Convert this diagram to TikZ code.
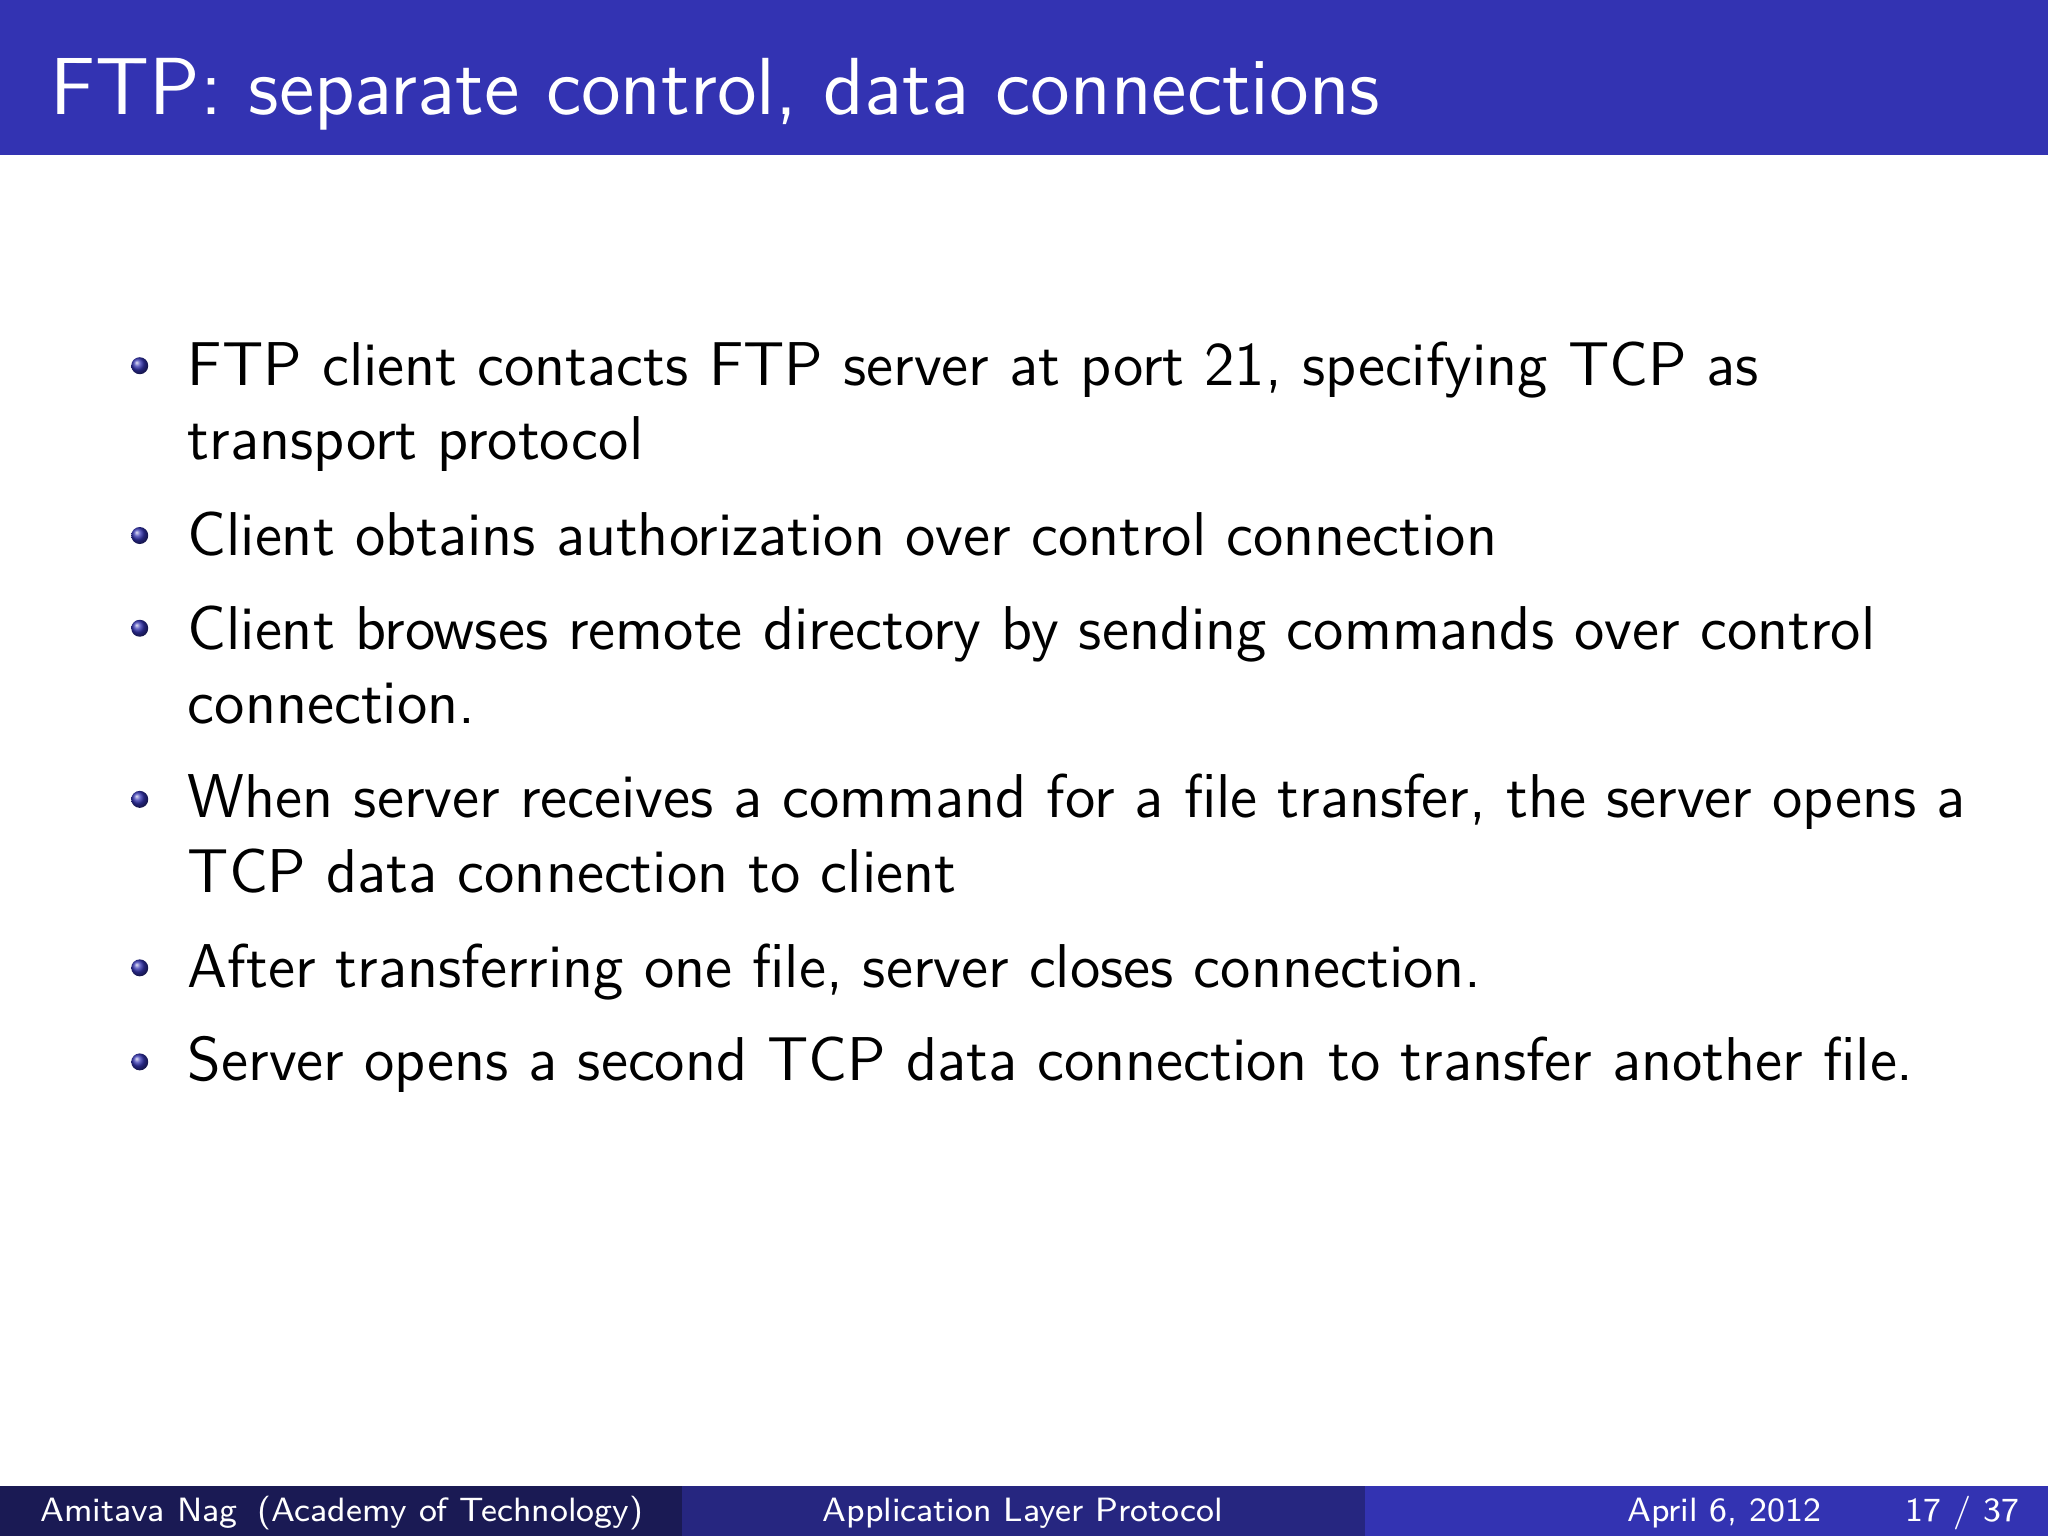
\documentclass[tikz,border=0pt]{standalone}
\usetikzlibrary{shadings}
\definecolor{bbar}{RGB}{51,51,178}
\definecolor{fdark}{RGB}{26,26,84}
\definecolor{fmid}{RGB}{38,38,128}
\tikzset{
  line/.style={anchor=base west,inner sep=0pt,font=\sffamily\fontsize{11}{13}\selectfont},
  foot/.style={anchor=base west,inner sep=0pt,text=white,font=\sffamily\fontsize{6}{7}\selectfont},
  ballb/.style={ball color=bbar,draw=none}
}
\begin{document}
\begin{tikzpicture}[x=0.0081633cm,y=-0.0081633cm]
\useasboundingbox (0,0) rectangle (1568,1176);
\fill[white] (0,0) rectangle (1568,1176);
\fill[bbar] (0,0) rectangle (1568,119);
\node[anchor=base west,inner sep=0pt,text=white,font=\sffamily\fontsize{14.4}{17}\selectfont] (title) at (38,88) {FTP: separate control, data connections};
\foreach \y in {280,410,481,612,741,813}{
  \shade[ballb] (107,\y) circle (6.5);
}
\node[line] (l1) at (143,295) {FTP client contacts FTP server at port 21, specifying TCP as};
\node[line] (l2) at (143,352) {transport protocol};
\node[line] (l3) at (143,425) {Client obtains authorization over control connection};
\node[line] (l4) at (143,497) {Client browses remote directory by sending commands over control};
\node[line] (l5) at (143,554) {connection.};
\node[line] (l6) at (143,626) {When server receives a command for a file transfer, the server opens a};
\node[line] (l7) at (143,683) {TCP data connection to client};
\node[line] (l8) at (143,756) {After transferring one file, server closes connection.};
\node[line] (l9) at (143,827) {Server opens a second TCP data connection to transfer another file.};
\fill[fdark] (0,1138) rectangle (522,1176);
\fill[fmid] (522,1138) rectangle (1045,1176);
\fill[bbar] (1045,1138) rectangle (1568,1176);
\node[foot] (f1) at (30,1165) {Amitava Nag\hspace{0.6em}(Academy of Technology)};
\node[foot,anchor=base] (f2) at (783,1165) {Application Layer Protocol};
\node[foot] (f3) at (1245,1165) {April 6, 2012};
\node[foot] (f4) at (1458,1165) {17 / 37};
\end{tikzpicture}
\end{document}
